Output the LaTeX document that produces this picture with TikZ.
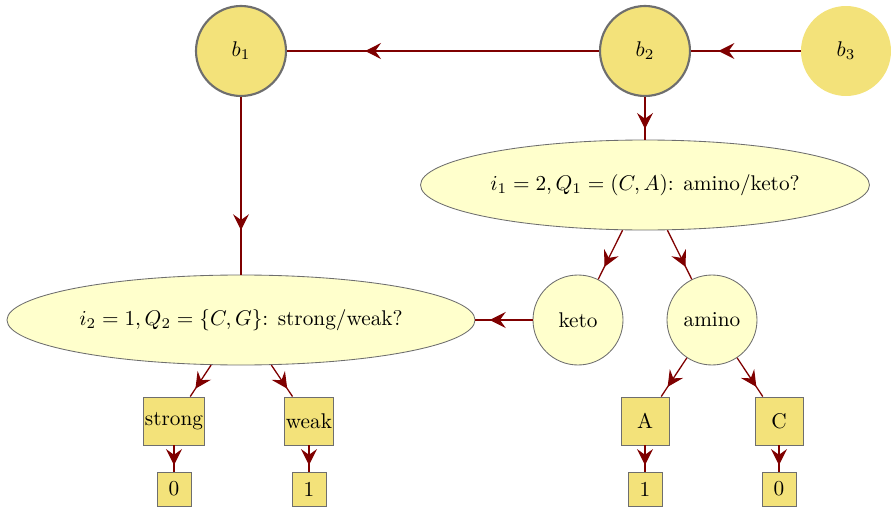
\documentclass[tikz,border=0pt]{standalone}
\usepackage{amsmath,amssymb}
\usetikzlibrary{arrows.meta,shapes.geometric,decorations.markings}
\definecolor{gold}{HTML}{F3E27A}
\definecolor{cream}{HTML}{FFFFCC}
\definecolor{rim}{HTML}{6E6E6E}
\definecolor{wine}{HTML}{7F0000}
\tikzset{
  bitnode/.style={circle, fill=gold, inner sep=0pt, minimum size=42.3pt},
  query/.style={ellipse, draw=rim, fill=cream, inner sep=0pt, minimum height=42.3pt},
  answer/.style={circle, draw=rim, fill=cream, inner sep=0pt, minimum size=42.3pt},
  leaf/.style={rectangle, draw=rim, fill=gold, inner sep=0.5pt, minimum size=22.6pt},
  bit/.style={rectangle, draw=rim, fill=gold, inner sep=0.5pt, minimum size=16pt},
  link/.style={wine, line width=0.6pt, postaction={decorate},
    decoration={markings, mark=at position 0.75 with {\arrow{Stealth[length=7.5pt,width=7.5pt,inset=2.7pt]}}}}
}
\begin{document}
\begin{tikzpicture}[x=0.47pt, y=-0.47pt]
\useasboundingbox (0,0) rectangle (891,507);
% top row
\node[bitnode, draw=rim, line width=1pt] (b1) at (241,51) {$b_1$};
\node[bitnode, draw=rim, line width=1pt] (b2) at (645,51) {$b_2$};
\node[bitnode] (b3) at (846,51) {$b_3$};
% questions
\node[query, minimum width=211pt] (q1) at (645,185) {$i_1=2, Q_1=(C,A)$: amino/keto?};
\node[query, minimum width=220pt] (q2) at (241,320) {$i_2=1, Q_2=\{C,G\}$: strong/weak?};
\node[answer] (keto) at (578,320) {keto};
\node[answer] (amino) at (712,320) {amino};
% leaves
\node[leaf] (strong) at (174,421) {strong};
\node[leaf] (weak) at (309,421) {weak};
\node[leaf] (A) at (645,421) {A};
\node[leaf] (C) at (779,421) {C};
\node[bit] (s0) at (174,489) {0};
\node[bit] (w1) at (309,489) {1};
\node[bit] (a1) at (645,489) {1};
\node[bit] (c0) at (779,489) {0};
% connectors
\draw[link] (b3) -- (b2);
\draw[link] (b2) -- (b1);
\draw[link] (b2) -- (q1);
\draw[link] (b1) -- (q2);
\draw[link] (q1) -- (keto);
\draw[link] (q1) -- (amino);
\draw[link] (keto) -- (q2);
\draw[link] (q2) -- (strong);
\draw[link] (q2) -- (weak);
\draw[link] (amino) -- (A);
\draw[link] (amino) -- (C);
\draw[link] (strong) -- (s0);
\draw[link] (weak) -- (w1);
\draw[link] (A) -- (a1);
\draw[link] (C) -- (c0);
\end{tikzpicture}
\end{document}
